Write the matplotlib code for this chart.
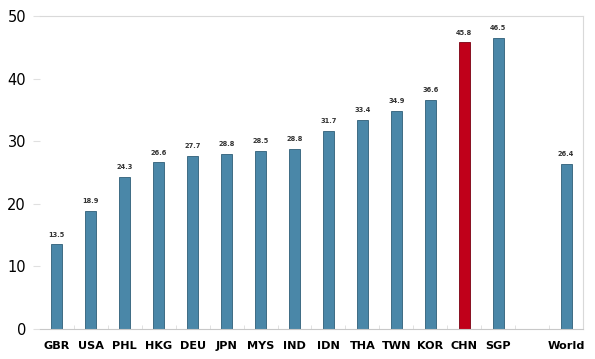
import matplotlib.pyplot as plt
import numpy as np

# data
countries = ["GBR", "USA", "PHL", "HKG", "DEU", "JPN", "MYS", "IND",
             "IDN", "THA", "TWN", "KOR", "CHN", "SGP", "", "World"]
values = [13.5, 18.9, 24.3, 26.6, 27.7, 28.0, 28.5, 28.8,
          31.7, 33.4, 34.9, 36.6, 45.8, 46.5, np.nan, 26.4]
value_labels = ["13.5", "18.9", "24.3", "26.6", "27.7", "28.8", "28.5", "28.8",
                "31.7", "33.4", "34.9", "36.6", "45.8", "46.5", "", "26.4"]
highlight = "CHN"

blue = "#4a87a8"
red = "#c0001a"

fig = plt.figure(figsize=(5.95, 3.59), dpi=100)
ax = fig.add_axes([0.067, 0.084, 0.913, 0.871])

x = np.arange(len(countries))
colors = [red if c == highlight else blue for c in countries]
edges = ["#7a0010" if c == highlight else "#2e5e78" for c in countries]
bars = ax.bar(x, values, width=0.33, color=colors, edgecolor=edges, linewidth=0.6)

for xi, v, lab in zip(x, values, value_labels):
    if lab:
        ax.text(xi, v + 1.1, lab, ha="center", va="bottom",
                fontsize=4.8, fontweight="bold", color="#333333")

ax.set_xlim(-0.5, len(countries) - 0.5)
ax.set_ylim(0, 50)
ax.set_yticks([0, 10, 20, 30, 40, 50])
ax.set_xticks(x)
ax.set_xticklabels(countries, fontsize=8.1, fontweight="bold")
ax.set_xticks(np.arange(0.5, len(countries) - 1, 1), minor=True)

ax.tick_params(axis="y", labelsize=10.5, length=5, color="#e0e0e0", pad=5)
ax.tick_params(axis="x", which="major", length=0, pad=8.5)
ax.tick_params(axis="x", which="minor", length=3, direction="in", color="#dddddd")

ax.spines["left"].set_visible(False)
for s in ["top", "right"]:
    ax.spines[s].set_color("#d9d9d9")
    ax.spines[s].set_linewidth(0.8)
ax.spines["bottom"].set_color("#c8c8c8")
ax.spines["bottom"].set_linewidth(0.8)

fig.savefig("out.png", dpi=100)
